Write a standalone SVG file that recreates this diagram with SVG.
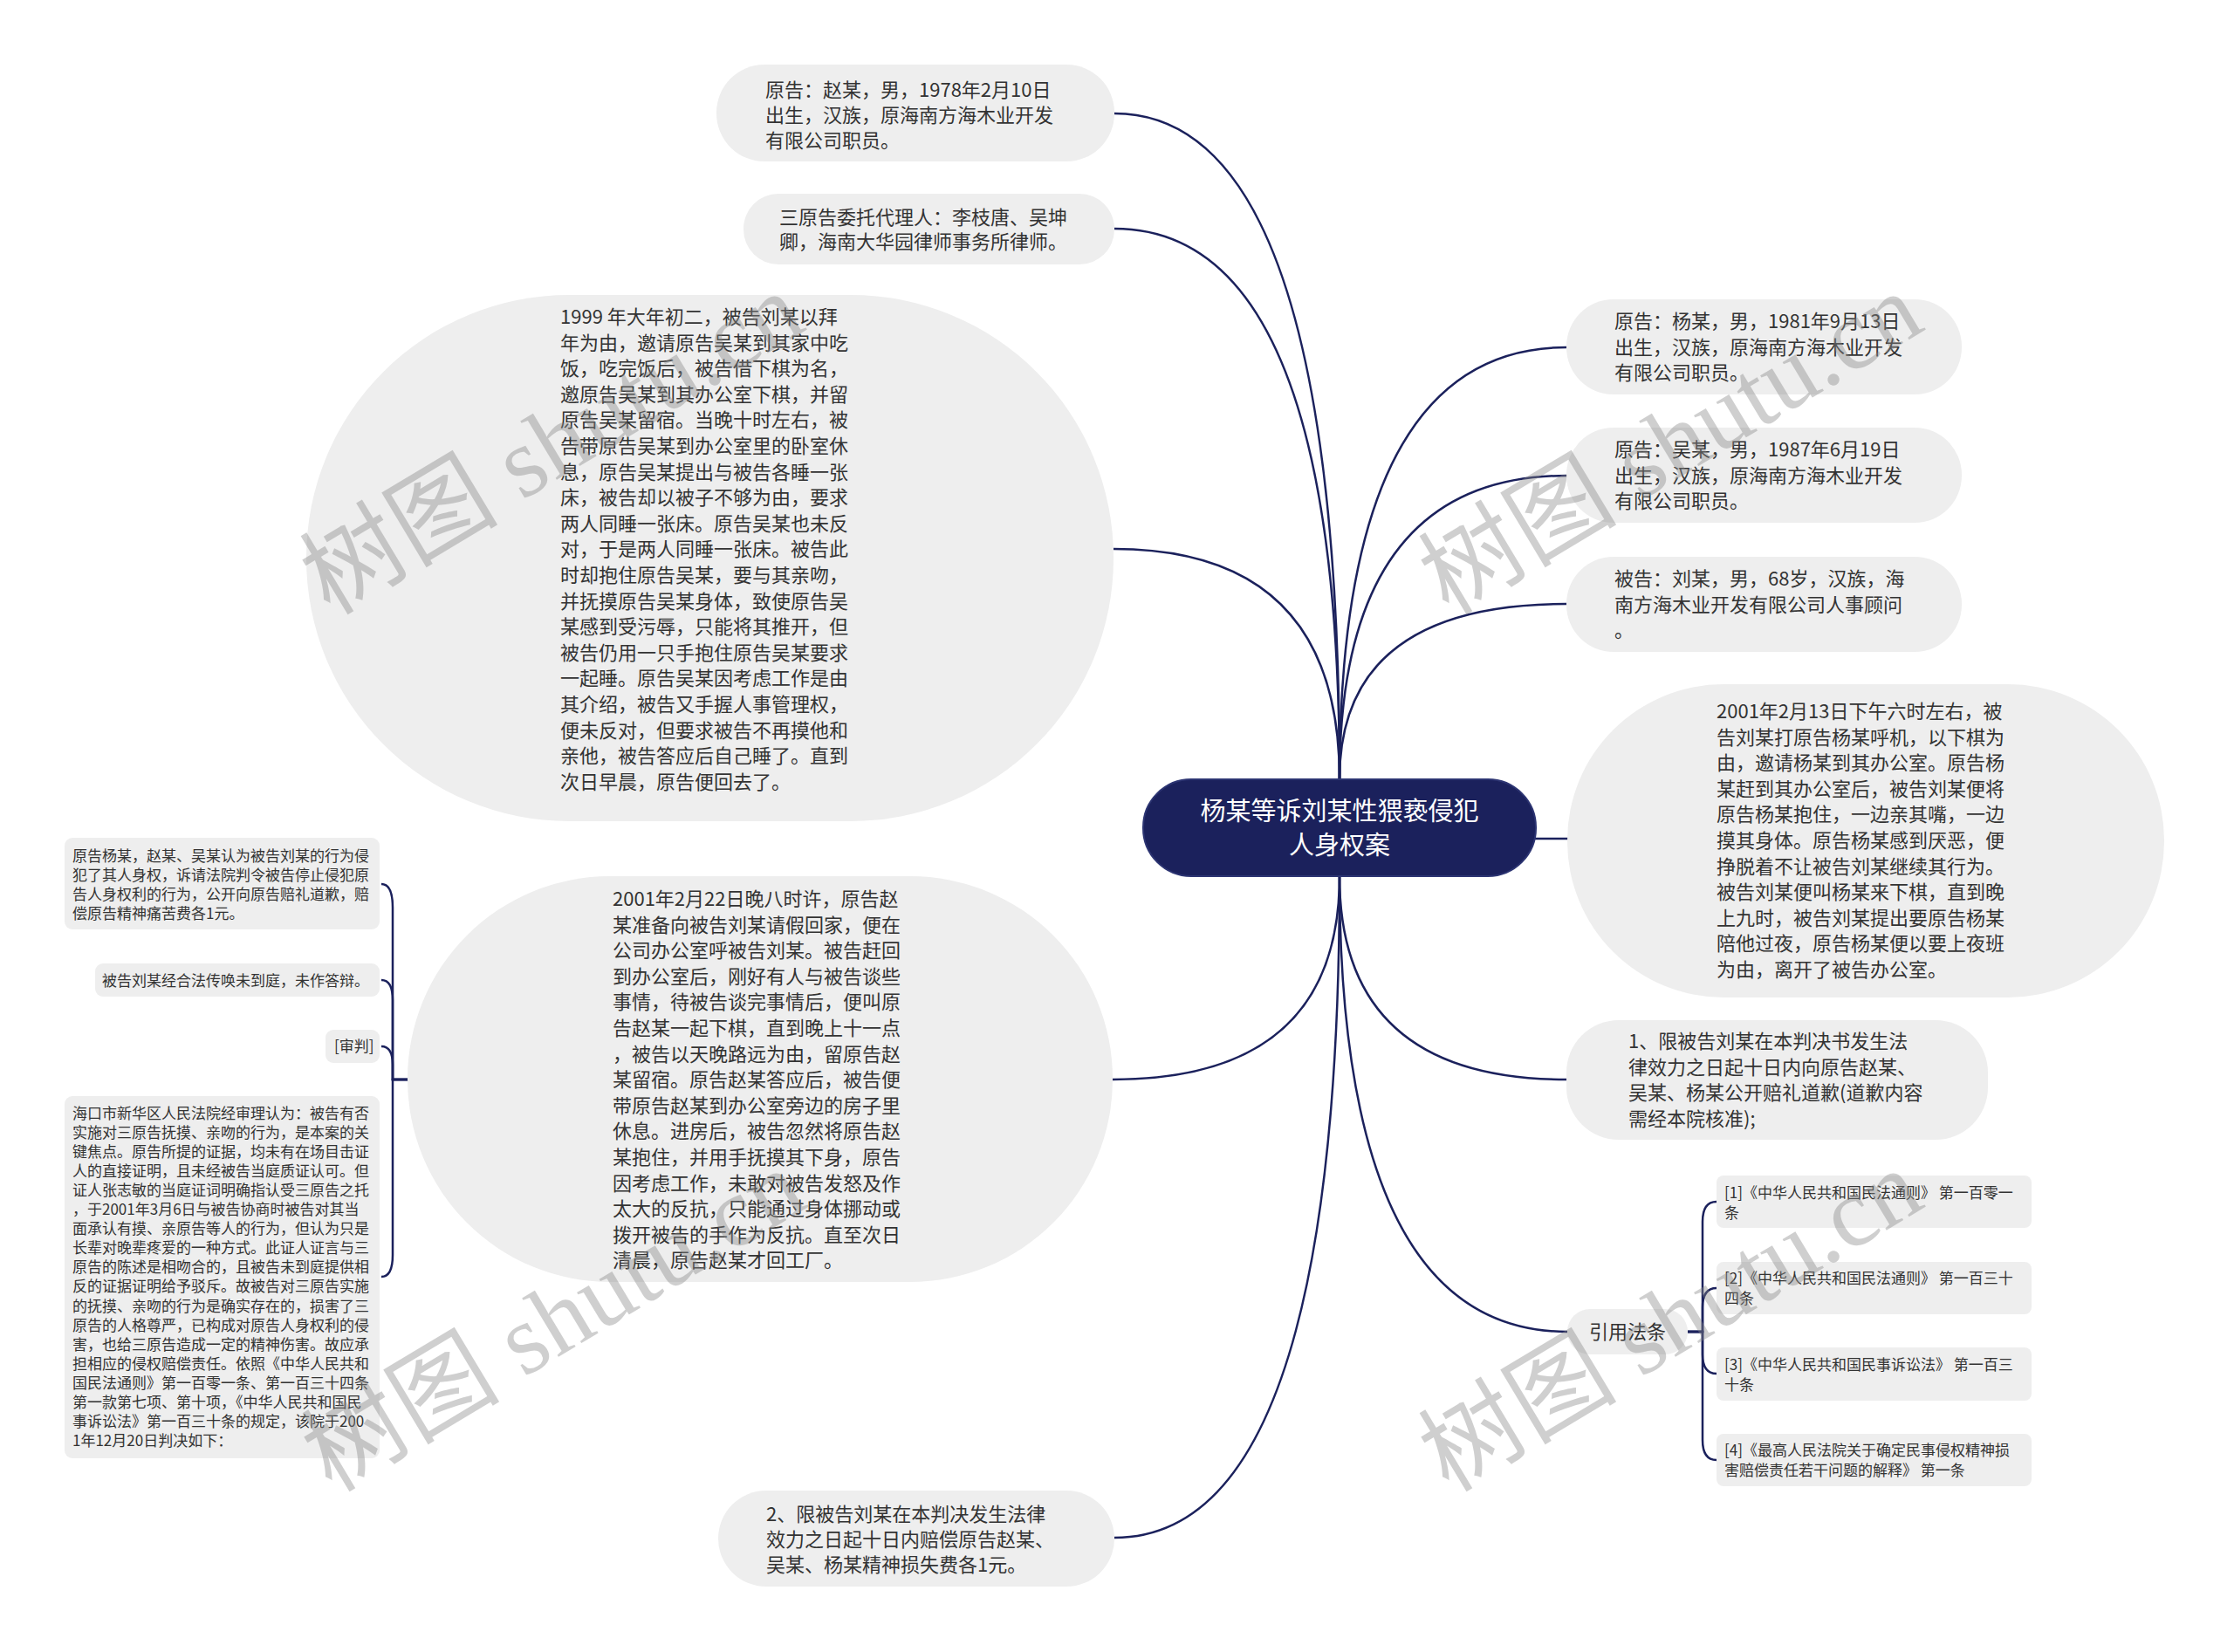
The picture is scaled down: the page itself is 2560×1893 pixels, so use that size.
<svg xmlns="http://www.w3.org/2000/svg" width="2560" height="1893" viewBox="0 0 2560 1893">
<style>
.bg{fill:#ffffff}
.b{fill:#eeeeee}
.t{font-family:"Noto Sans CJK SC","Noto Sans",sans-serif;font-size:22px;fill:#333333}
.s{font-size:17px}
.c{fill:none;stroke:#1b215c;stroke-width:2.5}
.root{fill:#1b215c;stroke:#2c3472;stroke-width:2}
.rt{font-family:"Noto Sans CJK SC","Noto Sans",sans-serif;font-size:29px;fill:#ffffff;text-anchor:middle}
.wm{font-family:"Liberation Serif","Noto Sans CJK SC",serif;font-size:114px;fill:#888888;opacity:0.4}
</style>
<rect class="bg" x="0" y="0" width="2560" height="1893"/>

<g id="connectors">
<path class="c" d="M1535 893 Q1535 130 1277 130"/>
<path class="c" d="M1535 893 Q1535 262 1277 262"/>
<path class="c" d="M1535 893 Q1535 629 1276 629"/>
<path class="c" d="M1535 893 Q1535 398 1795 398"/>
<path class="c" d="M1535 893 Q1535 545 1795 545"/>
<path class="c" d="M1535 893 Q1535 692 1795 692"/>
<path class="c" d="M1740 961 H1800"/>
<path class="c" d="M1535 1004 Q1535 1237 1795 1237"/>
<path class="c" d="M1535 1004 Q1535 1526 1796 1526"/>
<path class="c" d="M1535 1004 Q1535 1237 1275 1237"/>
<path class="c" d="M1535 1004 Q1535 1762 1277 1762"/>
<path class="c" d="M470 1237 H450 V1040 Q450 1013 437 1013"/>
<path class="c" d="M470 1237 H450 V1146 Q450 1123 437 1123"/>
<path class="c" d="M470 1237 H450 V1220 Q450 1199 437 1199"/>
<path class="c" d="M470 1237 H450 V1438 Q450 1463 437 1463"/>
<path class="c" d="M1934 1526 H1951 V1400 Q1951 1377 1967 1377"/>
<path class="c" d="M1934 1526 H1951 V1498 Q1951 1476 1967 1476"/>
<path class="c" d="M1934 1526 H1951 V1552 Q1951 1574 1967 1574"/>
<path class="c" d="M1934 1526 H1951 V1650 Q1951 1673 1967 1673"/>
</g>

<g id="root">
<rect class="root" x="1310" y="893" width="450" height="111" rx="55"/>
<text class="rt"><tspan x="1535" y="940">杨某等诉刘某性猥亵侵犯</tspan><tspan x="1535" y="979">人身权案</tspan></text>
</g>

<g id="n-zhao">
<rect class="b" x="821" y="74" width="456" height="111" rx="55"/>
<text class="t"><tspan x="877" y="111">原告：赵某，男，1978年2月10日</tspan><tspan x="877" y="140">出生，汉族，原海南方海木业开发</tspan><tspan x="877" y="169">有限公司职员。</tspan></text>
</g>

<g id="n-agent">
<rect class="b" x="852" y="222" width="425" height="81" rx="40"/>
<text class="t"><tspan x="893" y="257">三原告委托代理人：李枝唐、吴坤</tspan><tspan x="893" y="285">卿，海南大华园律师事务所律师。</tspan></text>
</g>

<g id="n-1999">
<rect class="b" x="351" y="338" width="925" height="603" rx="301"/>
<text class="t" x="642" y="371"><tspan x="642">1999 年大年初二，被告刘某以拜</tspan><tspan x="642" dy="29.6">年为由，邀请原告吴某到其家中吃</tspan><tspan x="642" dy="29.6">饭，吃完饭后，被告借下棋为名，</tspan><tspan x="642" dy="29.6">邀原告吴某到其办公室下棋，并留</tspan><tspan x="642" dy="29.6">原告吴某留宿。当晚十时左右，被</tspan><tspan x="642" dy="29.6">告带原告吴某到办公室里的卧室休</tspan><tspan x="642" dy="29.6">息，原告吴某提出与被告各睡一张</tspan><tspan x="642" dy="29.6">床，被告却以被子不够为由，要求</tspan><tspan x="642" dy="29.6">两人同睡一张床。原告吴某也未反</tspan><tspan x="642" dy="29.6">对，于是两人同睡一张床。被告此</tspan><tspan x="642" dy="29.6">时却抱住原告吴某，要与其亲吻，</tspan><tspan x="642" dy="29.6">并抚摸原告吴某身体，致使原告吴</tspan><tspan x="642" dy="29.6">某感到受污辱，只能将其推开，但</tspan><tspan x="642" dy="29.6">被告仍用一只手抱住原告吴某要求</tspan><tspan x="642" dy="29.6">一起睡。原告吴某因考虑工作是由</tspan><tspan x="642" dy="29.6">其介绍，被告又手握人事管理权，</tspan><tspan x="642" dy="29.6">便未反对，但要求被告不再摸他和</tspan><tspan x="642" dy="29.6">亲他，被告答应后自己睡了。直到</tspan><tspan x="642" dy="29.6">次日早晨，原告便回去了。</tspan></text>
</g>

<g id="n-feb22">
<rect class="b" x="467" y="1004" width="808" height="465" rx="232"/>
<text class="t" x="702" y="1038"><tspan x="702">2001年2月22日晚八时许，原告赵</tspan><tspan x="702" dy="29.6">某准备向被告刘某请假回家，便在</tspan><tspan x="702" dy="29.6">公司办公室呼被告刘某。被告赶回</tspan><tspan x="702" dy="29.6">到办公室后，刚好有人与被告谈些</tspan><tspan x="702" dy="29.6">事情，待被告谈完事情后，便叫原</tspan><tspan x="702" dy="29.6">告赵某一起下棋，直到晚上十一点</tspan><tspan x="702" dy="29.6">，被告以天晚路远为由，留原告赵</tspan><tspan x="702" dy="29.6">某留宿。原告赵某答应后，被告便</tspan><tspan x="702" dy="29.6">带原告赵某到办公室旁边的房子里</tspan><tspan x="702" dy="29.6">休息。进房后，被告忽然将原告赵</tspan><tspan x="702" dy="29.6">某抱住，并用手抚摸其下身，原告</tspan><tspan x="702" dy="29.6">因考虑工作，未敢对被告发怒及作</tspan><tspan x="702" dy="29.6">太大的反抗，只能通过身体挪动或</tspan><tspan x="702" dy="29.6">拨开被告的手作为反抗。直至次日</tspan><tspan x="702" dy="29.6">清晨，原告赵某才回工厂。</tspan></text>
</g>

<g id="n-claim">
<rect class="b" x="74" y="960" width="361" height="105" rx="9"/>
<text class="t s" x="83" y="986.5"><tspan x="83">原告杨某，赵某、吴某认为被告刘某的行为侵</tspan><tspan x="83" dy="22.3">犯了其人身权，诉请法院判令被告停止侵犯原</tspan><tspan x="83" dy="22.3">告人身权利的行为，公开向原告赔礼道歉，赔</tspan><tspan x="83" dy="22.3">偿原告精神痛苦费各1元。</tspan></text>
</g>

<g id="n-absent">
<rect class="b" x="109" y="1104" width="326" height="38" rx="9"/>
<text class="t s" x="117" y="1129.5">被告刘某经合法传唤未到庭，未作答辩。</text>
</g>

<g id="n-trial">
<rect class="b" x="373" y="1180" width="62" height="38" rx="9"/>
<text class="t s" x="383" y="1205">[审判]</text>
</g>

<g id="n-court">
<rect class="b" x="74" y="1256" width="361" height="415" rx="9"/>
<text class="t s" x="83" y="1281.5"><tspan x="83">海口市新华区人民法院经审理认为：被告有否</tspan><tspan x="83" dy="22.1">实施对三原告抚摸、亲吻的行为，是本案的关</tspan><tspan x="83" dy="22.1">键焦点。原告所提的证据，均未有在场目击证</tspan><tspan x="83" dy="22.1">人的直接证明，且未经被告当庭质证认可。但</tspan><tspan x="83" dy="22.1">证人张志敏的当庭证词明确指认受三原告之托</tspan><tspan x="83" dy="22.1">，于2001年3月6日与被告协商时被告对其当</tspan><tspan x="83" dy="22.1">面承认有摸、亲原告等人的行为，但认为只是</tspan><tspan x="83" dy="22.1">长辈对晚辈疼爱的一种方式。此证人证言与三</tspan><tspan x="83" dy="22.1">原告的陈述是相吻合的，且被告未到庭提供相</tspan><tspan x="83" dy="22.1">反的证据证明给予驳斥。故被告对三原告实施</tspan><tspan x="83" dy="22.1">的抚摸、亲吻的行为是确实存在的，损害了三</tspan><tspan x="83" dy="22.1">原告的人格尊严，已构成对原告人身权利的侵</tspan><tspan x="83" dy="22.1">害，也给三原告造成一定的精神伤害。故应承</tspan><tspan x="83" dy="22.1">担相应的侵权赔偿责任。依照《中华人民共和</tspan><tspan x="83" dy="22.1">国民法通则》第一百零一条、第一百三十四条</tspan><tspan x="83" dy="22.1">第一款第七项、第十项，《中华人民共和国民</tspan><tspan x="83" dy="22.1">事诉讼法》第一百三十条的规定，该院于200</tspan><tspan x="83" dy="22.1">1年12月20日判决如下：</tspan></text>
</g>

<g id="n-judg2">
<rect class="b" x="823" y="1708" width="454" height="110" rx="55"/>
<text class="t"><tspan x="878" y="1743">2、限被告刘某在本判决发生法律</tspan><tspan x="878" y="1772">效力之日起十日内赔偿原告赵某、</tspan><tspan x="878" y="1801">吴某、杨某精神损失费各1元。</tspan></text>
</g>

<g id="n-yang">
<rect class="b" x="1795" y="343" width="453" height="109" rx="54"/>
<text class="t"><tspan x="1850" y="376">原告：杨某，男，1981年9月13日</tspan><tspan x="1850" y="405.5">出生，汉族，原海南方海木业开发</tspan><tspan x="1850" y="435">有限公司职员。</tspan></text>
</g>

<g id="n-wu">
<rect class="b" x="1795" y="490" width="453" height="109" rx="54"/>
<text class="t"><tspan x="1850" y="523">原告：吴某，男，1987年6月19日</tspan><tspan x="1850" y="552.5">出生，汉族，原海南方海木业开发</tspan><tspan x="1850" y="582">有限公司职员。</tspan></text>
</g>

<g id="n-liu">
<rect class="b" x="1795" y="638" width="453" height="109" rx="54"/>
<text class="t"><tspan x="1850" y="671">被告：刘某，男，68岁，汉族，海</tspan><tspan x="1850" y="700.5">南方海木业开发有限公司人事顾问</tspan><tspan x="1850" y="730">。</tspan></text>
</g>

<g id="n-feb13">
<rect class="b" x="1796" y="784" width="684" height="359" rx="179"/>
<text class="t" x="1967" y="823"><tspan x="1967">2001年2月13日下午六时左右，被</tspan><tspan x="1967" dy="29.6">告刘某打原告杨某呼机，以下棋为</tspan><tspan x="1967" dy="29.6">由，邀请杨某到其办公室。原告杨</tspan><tspan x="1967" dy="29.6">某赶到其办公室后，被告刘某便将</tspan><tspan x="1967" dy="29.6">原告杨某抱住，一边亲其嘴，一边</tspan><tspan x="1967" dy="29.6">摸其身体。原告杨某感到厌恶，便</tspan><tspan x="1967" dy="29.6">挣脱着不让被告刘某继续其行为。</tspan><tspan x="1967" dy="29.6">被告刘某便叫杨某来下棋，直到晚</tspan><tspan x="1967" dy="29.6">上九时，被告刘某提出要原告杨某</tspan><tspan x="1967" dy="29.6">陪他过夜，原告杨某便以要上夜班</tspan><tspan x="1967" dy="29.6">为由，离开了被告办公室。</tspan></text>
</g>

<g id="n-judg1">
<rect class="b" x="1795" y="1169" width="483" height="137" rx="60"/>
<text class="t"><tspan x="1866" y="1201">1、限被告刘某在本判决书发生法</tspan><tspan x="1866" y="1230.6">律效力之日起十日内向原告赵某、</tspan><tspan x="1866" y="1260.2">吴某、杨某公开赔礼道歉(道歉内容</tspan><tspan x="1866" y="1289.8">需经本院核准);</tspan></text>
</g>

<g id="n-laws">
<rect class="b" x="1796" y="1500" width="138" height="52" rx="26"/>
<text class="t" x="1865" y="1534" text-anchor="middle">引用法条</text>
</g>

<g id="n-law1">
<rect class="b" x="1967" y="1347" width="361" height="60" rx="8"/>
<text class="t s"><tspan x="1976" y="1373">[1]《中华人民共和国民法通则》 第一百零一</tspan><tspan x="1976" y="1396">条</tspan></text>
</g>
<g id="n-law2">
<rect class="b" x="1967" y="1446" width="361" height="60" rx="8"/>
<text class="t s"><tspan x="1976" y="1471">[2]《中华人民共和国民法通则》 第一百三十</tspan><tspan x="1976" y="1494">四条</tspan></text>
</g>
<g id="n-law3">
<rect class="b" x="1967" y="1544" width="361" height="61" rx="8"/>
<text class="t s"><tspan x="1976" y="1569.5">[3]《中华人民共和国民事诉讼法》 第一百三</tspan><tspan x="1976" y="1592.5">十条</tspan></text>
</g>
<g id="n-law4">
<rect class="b" x="1967" y="1643" width="361" height="60" rx="8"/>
<text class="t s"><tspan x="1976" y="1668">[4]《最高人民法院关于确定民事侵权精神损</tspan><tspan x="1976" y="1691">害赔偿责任若干问题的解释》 第一条</tspan></text>
</g>

<g id="watermarks">
<text class="wm" transform="translate(378 706) rotate(-31)">树图 shutu.cn</text>
<text class="wm" transform="translate(1660 706) rotate(-31)">树图 shutu.cn</text>
<text class="wm" transform="translate(380 1711) rotate(-31)">树图 shutu.cn</text>
<text class="wm" transform="translate(1660 1711) rotate(-31)">树图 shutu.cn</text>
</g>
</svg>
